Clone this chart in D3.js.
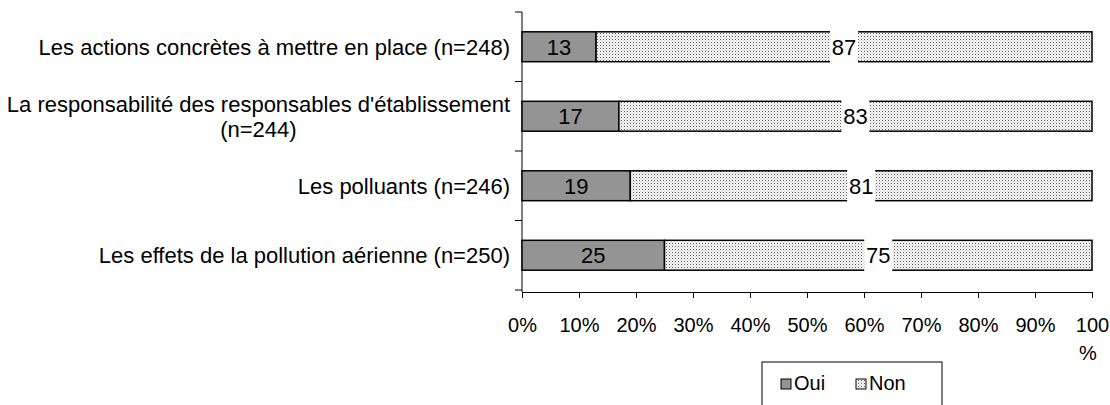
<!DOCTYPE html>
<html>
<head>
<meta charset="utf-8">
<script src="https://cdn.jsdelivr.net/npm/d3@7"></script>
<style>
  body { margin: 0; background: #fff; }
  svg text { font-family: "Liberation Sans", Arial, sans-serif; fill: #000; }
</style>
</head>
<body>
<div id="chart"></div>
<script>
// categories, top to bottom (each is a list of lines)
const categories = [
    ['Les actions concrètes à mettre en place (n=248)'],
    ['La responsabilité des responsables d\'établissement', '(n=244)'],
    ['Les polluants (n=246)'],
    ['Les effets de la pollution aérienne (n=250)']
];
const ouiValues = [13, 17, 19, 25];
const nonValues = [87, 83, 81, 75];
const xTicks = [0, 10, 20, 30, 40, 50, 60, 70, 80, 90, 100];
const seriesNames = ['Oui', 'Non'];

const W = 1110, H = 405;
const margin = { top: 12, left: 522, right: 18, bottom: 113 };
const fontSize = '22px';

const svg = d3.select('#chart').append('svg')
    .attr('width', W)
    .attr('height', H);

// dotted pattern for "Non"
const defs = svg.append('defs');
const pat = defs.append('pattern')
    .attr('id', 'dots')
    .attr('patternUnits', 'userSpaceOnUse')
    .attr('width', 3).attr('height', 3);
pat.append('rect').attr('width', 3).attr('height', 3).attr('fill', '#fff');
pat.append('rect').attr('x', 0).attr('y', 0).attr('width', 1).attr('height', 1).attr('fill', '#555');
pat.append('rect').attr('x', 1.5).attr('y', 1.5).attr('width', 1).attr('height', 1).attr('fill', '#999');

const keys = categories.map((c, i) => i);
const x = d3.scaleLinear().domain([0, 100]).range([margin.left, 1092]);
const y = d3.scaleBand().domain(keys).range([margin.top, 290]).paddingInner(0.57).paddingOuter(0.285);

const g = svg.append('g').classed('wrapper-group', true);

// y axis line + ticks at category boundaries
g.append('line')
    .attr('x1', margin.left).attr('x2', margin.left)
    .attr('y1', margin.top).attr('y2', 292)
    .attr('stroke', '#000').attr('stroke-width', 1);
const bounds = d3.range(keys.length + 1).map(i => margin.top + i * (278 / keys.length));
g.selectAll('.ytick').data(bounds).join('line')
    .attr('class', 'ytick')
    .attr('x1', margin.left - 7).attr('x2', margin.left)
    .attr('y1', d => d).attr('y2', d => d)
    .attr('stroke', '#000');

// x axis
const xAxis = g.append('g')
    .attr('transform', 'translate(0,292)')
    .call(d3.axisBottom(x).tickValues(xTicks).tickSize(6).tickSizeOuter(0).tickFormat(d => d === 100 ? '100' : d + '%'));
xAxis.select('.domain').attr('stroke', '#000');
xAxis.selectAll('.tick line').attr('stroke', '#000');
xAxis.selectAll('.tick text')
    .attr('dy', 0).attr('y', 40)
    .style('font-size', '20px')
    .style('font-family', '"Liberation Sans", Arial, sans-serif');
g.append('text')
    .attr('x', x(100) - 4).attr('y', 360)
    .attr('text-anchor', 'middle')
    .style('font-size', '20px')
    .text('%');

// category labels
const labels = g.selectAll('.cat').data(categories).join('text')
    .attr('class', 'cat')
    .attr('text-anchor', 'middle')
    .style('font-size', fontSize);
labels.each(function (lines, i) {
    const t = d3.select(this);
    const cy = y(i) + y.bandwidth() / 2;
    const n = lines.length;
    lines.forEach((line, j) => {
        t.append('tspan')
            .attr('x', 0)
            .attr('y', cy + (j - (n - 1) / 2) * 25 + 8)
            .text(line);
    });
});
// right-align the label block at x=510, centre multi-line text inside it
labels.each(function () {
    const t = d3.select(this);
    const bb = this.getBBox();
    t.attr('transform', 'translate(' + (510 - bb.width / 2) + ',0)');
});

// bars
const bh = y.bandwidth();
const rows = g.selectAll('.row').data(keys).join('g').attr('class', 'row');
rows.append('rect')
    .attr('x', x(0)).attr('y', i => y(i))
    .attr('width', i => x(ouiValues[i]) - x(0)).attr('height', bh)
    .attr('fill', '#949494').attr('stroke', '#000').attr('stroke-width', 1.5);
rows.append('rect')
    .attr('x', i => x(ouiValues[i])).attr('y', i => y(i))
    .attr('width', i => x(ouiValues[i] + nonValues[i]) - x(ouiValues[i])).attr('height', bh)
    .attr('fill', 'url(#dots)').attr('stroke', '#000').attr('stroke-width', 1.5);

// value labels
rows.append('text')
    .attr('x', i => (x(0) + x(ouiValues[i])) / 2)
    .attr('y', i => y(i) + bh / 2 + 8)
    .attr('text-anchor', 'middle')
    .style('font-size', fontSize)
    .text(i => ouiValues[i]);
rows.append('rect')
    .attr('x', i => (x(ouiValues[i]) + x(100)) / 2 - 14)
    .attr('y', i => y(i) - 1.5)
    .attr('width', 28).attr('height', bh + 3)
    .attr('fill', '#fff');
rows.append('text')
    .attr('x', i => (x(ouiValues[i]) + x(100)) / 2)
    .attr('y', i => y(i) + bh / 2 + 8)
    .attr('text-anchor', 'middle')
    .style('font-size', fontSize)
    .text(i => nonValues[i]);

// legend
const leg = g.append('g').attr('transform', 'translate(762,362)');
leg.append('rect').attr('width', 180).attr('height', 50)
    .attr('fill', '#fff').attr('stroke', '#000').attr('stroke-width', 1);
const fills = ['#949494', 'url(#dots)'];
const lx = [19, 94];
seriesNames.forEach((name, i) => {
    leg.append('rect')
        .attr('x', lx[i]).attr('y', 17).attr('width', 10).attr('height', 10)
        .attr('fill', fills[i]).attr('stroke', '#000');
    leg.append('text')
        .attr('x', lx[i] + 13).attr('y', 28)
        .style('font-size', '20px')
        .text(name);
});
</script>
</body>
</html>
